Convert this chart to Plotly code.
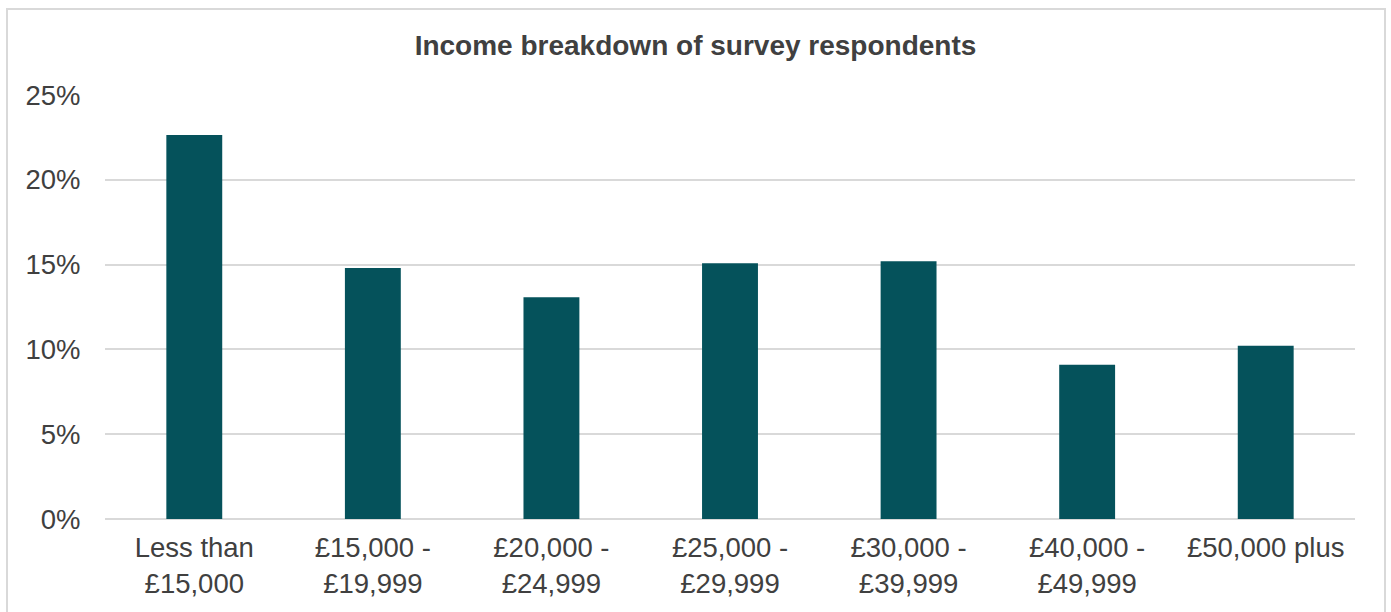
import plotly.graph_objects as go

# Survey income bands and share of respondents in each band
categories = [
    "Less than<br>£15,000",
    "£15,000 -<br>£19,999",
    "£20,000 -<br>£24,999",
    "£25,000 -<br>£29,999",
    "£30,000 -<br>£39,999",
    "£40,000 -<br>£49,999",
    "£50,000 plus",
]
shares = [0.2264, 0.1480, 0.1308, 0.1508, 0.1520, 0.0910, 0.1022]

y_ticks = [0, 0.05, 0.10, 0.15, 0.20, 0.25]
y_tick_labels = ["0%", "5%", "10%", "15%", "20%", "25%"]

BAR_COLOR = "#05525B"
TEXT_COLOR = "#404040"
GRID_COLOR = "#D9D9D9"
FONT = "Arial, Liberation Sans, sans-serif"
LABEL_SIZE = 27.5

fig = go.Figure(
    go.Bar(
        x=categories,
        y=shares,
        marker=dict(color=BAR_COLOR, line=dict(width=0)),
        hoverinfo="x+y",
    )
)

fig.update_layout(
    width=1391,
    height=612,
    margin=dict(l=105, r=36, t=95, b=93, autoexpand=False),
    paper_bgcolor="white",
    plot_bgcolor="white",
    bargap=0.687,
    showlegend=False,
    font=dict(family=FONT, size=LABEL_SIZE, color=TEXT_COLOR),
    title=dict(
        text="<b>Income breakdown of survey respondents</b>",
        x=0.5,
        xanchor="center",
        xref="container",
        yref="container",
        y=1 - 45 / 612,
        yanchor="middle",
        font=dict(family=FONT, size=28, color=TEXT_COLOR),
    ),
    xaxis=dict(
        automargin=False,
        showgrid=False,
        showline=False,
        zeroline=False,
        ticks="outside",
        ticklen=4,
        tickcolor="rgba(0,0,0,0)",
        tickfont=dict(size=LABEL_SIZE, color=TEXT_COLOR),
        fixedrange=True,
    ),
    yaxis=dict(
        automargin=False,
        range=[0, 0.25],
        tickvals=y_ticks,
        ticktext=y_tick_labels,
        showgrid=True,
        gridcolor=GRID_COLOR,
        gridwidth=2,
        zeroline=True,
        zerolinecolor=GRID_COLOR,
        zerolinewidth=2,
        showline=False,
        ticks="outside",
        ticklen=18,
        tickcolor="rgba(0,0,0,0)",
        tickfont=dict(size=LABEL_SIZE, color=TEXT_COLOR),
        fixedrange=True,
    ),
    # light frame around the whole chart
    shapes=[
        dict(
            type="rect",
            xref="paper",
            yref="paper",
            x0=(7 - 105) / 1250,
            x1=(1385 - 105) / 1250,
            y0=(519 - 640) / 424,
            y1=(519 - 9) / 424,
            line=dict(color=GRID_COLOR, width=2),
            fillcolor="rgba(0,0,0,0)",
            layer="below",
        )
    ],
)

fig.write_html("out.html", config={"displayModeBar": False})
